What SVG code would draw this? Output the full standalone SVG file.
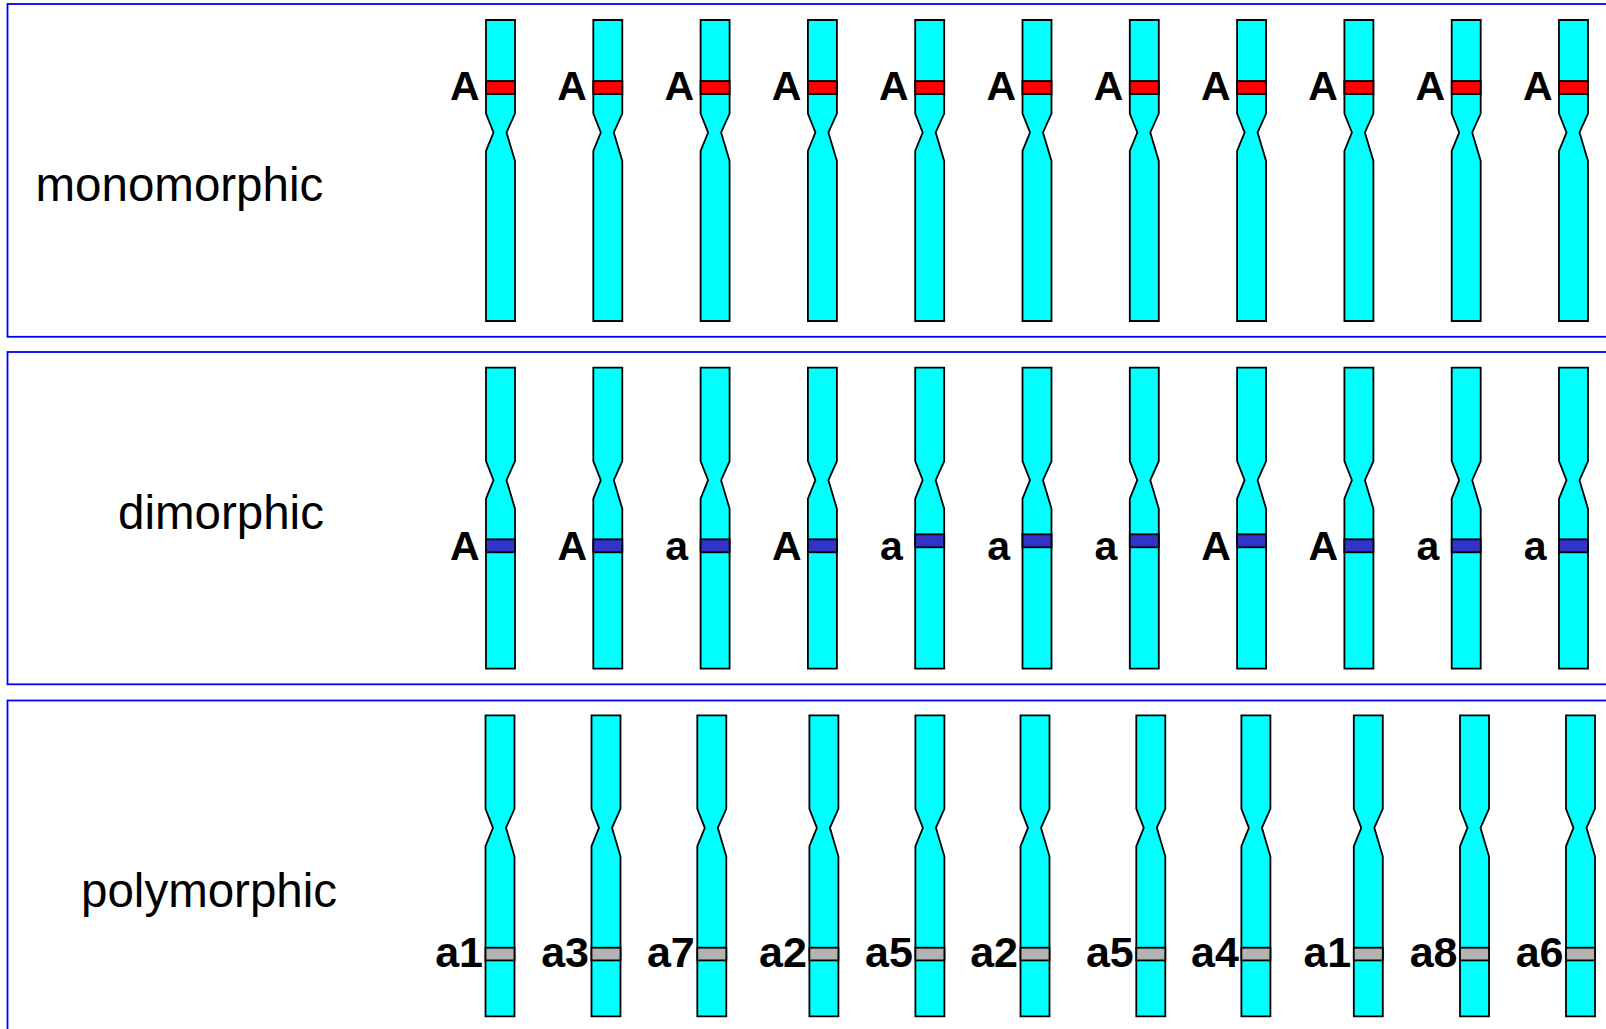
<svg xmlns="http://www.w3.org/2000/svg" xmlns:xlink="http://www.w3.org/1999/xlink" width="1606" height="1029" viewBox="0 0 1606 1029">
  <style>
    .panel { fill: #ffffff; stroke: #0000ff; stroke-width: 1.8; }
    .chr { fill: #00ffff; stroke: #000000; stroke-width: 1.8; stroke-linejoin: miter; }
    .band { stroke: #000000; stroke-width: 1.8; }
    .red { fill: #ff0000; }
    .blue { fill: #3333cc; }
    .grey { fill: #b3b3b3; }
    .title { font-family: "Liberation Sans", Arial, sans-serif; font-size: 47.5px; fill: #000000; }
    .allele { font-family: "Liberation Sans", Arial, sans-serif; font-weight: bold; font-size: 41px; fill: #000000; text-anchor: end; }
    .allele.poly { font-size: 43px; }
  </style>
  <defs>
    <!-- chromosome outline with an off-centre constriction (centromere) -->
    <path id="chromosome" d="M0,0 H29 V93.5 L20.5,112.5 L29,141 V301 H0 V131 L7.5,112.5 L0,93.5 Z"/>
  </defs>

  <!-- panel frames -->
  <g id="frames">
    <rect class="panel" x="7.5" y="4" width="1700" height="332.8"/>
    <rect class="panel" x="7.5" y="352" width="1700" height="332.3"/>
    <rect class="panel" x="7.5" y="700.5" width="1700" height="400"/>
  </g>

  <!-- row titles -->
  <g id="titles">
    <text class="title" x="35.5" y="201">monomorphic</text>
    <text class="title" x="118" y="529">dimorphic</text>
    <text class="title" x="81" y="906.5">polymorphic</text>
  </g>

  <!-- monomorphic row: every chromosome carries allele A -->
  <g id="monomorphic">
    <g id="m1"><use xlink:href="#chromosome" class="chr" x="486" y="20"/><rect class="band red" x="486" y="81" width="29" height="13"/><text class="allele" x="479.5" y="100">A</text></g>
    <g id="m2"><use xlink:href="#chromosome" class="chr" x="593.3" y="20"/><rect class="band red" x="593.3" y="81" width="29" height="13"/><text class="allele" x="586.8" y="100">A</text></g>
    <g id="m3"><use xlink:href="#chromosome" class="chr" x="700.6" y="20"/><rect class="band red" x="700.6" y="81" width="29" height="13"/><text class="allele" x="694.1" y="100">A</text></g>
    <g id="m4"><use xlink:href="#chromosome" class="chr" x="807.9" y="20"/><rect class="band red" x="807.9" y="81" width="29" height="13"/><text class="allele" x="801.4" y="100">A</text></g>
    <g id="m5"><use xlink:href="#chromosome" class="chr" x="915.2" y="20"/><rect class="band red" x="915.2" y="81" width="29" height="13"/><text class="allele" x="908.7" y="100">A</text></g>
    <g id="m6"><use xlink:href="#chromosome" class="chr" x="1022.5" y="20"/><rect class="band red" x="1022.5" y="81" width="29" height="13"/><text class="allele" x="1016" y="100">A</text></g>
    <g id="m7"><use xlink:href="#chromosome" class="chr" x="1129.8" y="20"/><rect class="band red" x="1129.8" y="81" width="29" height="13"/><text class="allele" x="1123.3" y="100">A</text></g>
    <g id="m8"><use xlink:href="#chromosome" class="chr" x="1237.1" y="20"/><rect class="band red" x="1237.1" y="81" width="29" height="13"/><text class="allele" x="1230.6" y="100">A</text></g>
    <g id="m9"><use xlink:href="#chromosome" class="chr" x="1344.4" y="20"/><rect class="band red" x="1344.4" y="81" width="29" height="13"/><text class="allele" x="1337.9" y="100">A</text></g>
    <g id="m10"><use xlink:href="#chromosome" class="chr" x="1451.7" y="20"/><rect class="band red" x="1451.7" y="81" width="29" height="13"/><text class="allele" x="1445.2" y="100">A</text></g>
    <g id="m11"><use xlink:href="#chromosome" class="chr" x="1559" y="20"/><rect class="band red" x="1559" y="81" width="29" height="13"/><text class="allele" x="1552.5" y="100">A</text></g>
  </g>

  <!-- dimorphic row: alleles A and a -->
  <g id="dimorphic">
    <g id="d1"><use xlink:href="#chromosome" class="chr" x="486" y="367.7"/><rect class="band blue" x="486" y="539.3" width="29" height="13"/><text class="allele" x="479.7" y="560">A</text></g>
    <g id="d2"><use xlink:href="#chromosome" class="chr" x="593.3" y="367.7"/><rect class="band blue" x="593.3" y="539.3" width="29" height="13"/><text class="allele" x="587" y="560">A</text></g>
    <g id="d3"><use xlink:href="#chromosome" class="chr" x="700.6" y="367.7"/><rect class="band blue" x="700.6" y="539.3" width="29" height="13"/><text class="allele" x="688.1" y="560">a</text></g>
    <g id="d4"><use xlink:href="#chromosome" class="chr" x="807.9" y="367.7"/><rect class="band blue" x="807.9" y="539.3" width="29" height="13"/><text class="allele" x="801.6" y="560">A</text></g>
    <g id="d5"><use xlink:href="#chromosome" class="chr" x="915.2" y="367.7"/><rect class="band blue" x="915.2" y="534.3" width="29" height="13"/><text class="allele" x="902.7" y="560">a</text></g>
    <g id="d6"><use xlink:href="#chromosome" class="chr" x="1022.5" y="367.7"/><rect class="band blue" x="1022.5" y="534.3" width="29" height="13"/><text class="allele" x="1010" y="560">a</text></g>
    <g id="d7"><use xlink:href="#chromosome" class="chr" x="1129.8" y="367.7"/><rect class="band blue" x="1129.8" y="534.3" width="29" height="13"/><text class="allele" x="1117.3" y="560">a</text></g>
    <g id="d8"><use xlink:href="#chromosome" class="chr" x="1237.1" y="367.7"/><rect class="band blue" x="1237.1" y="534.3" width="29" height="13"/><text class="allele" x="1230.8" y="560">A</text></g>
    <g id="d9"><use xlink:href="#chromosome" class="chr" x="1344.4" y="367.7"/><rect class="band blue" x="1344.4" y="539.3" width="29" height="13"/><text class="allele" x="1338.1" y="560">A</text></g>
    <g id="d10"><use xlink:href="#chromosome" class="chr" x="1451.7" y="367.7"/><rect class="band blue" x="1451.7" y="539.3" width="29" height="13"/><text class="allele" x="1439.2" y="560">a</text></g>
    <g id="d11"><use xlink:href="#chromosome" class="chr" x="1559" y="367.7"/><rect class="band blue" x="1559" y="539.3" width="29" height="13"/><text class="allele" x="1546.5" y="560">a</text></g>
  </g>

  <!-- polymorphic row: many alleles a1..a8 -->
  <g id="polymorphic">
    <g id="p1"><use xlink:href="#chromosome" class="chr" x="485.5" y="715.3"/><rect class="band grey" x="485.5" y="947.7" width="29" height="12.7"/><text class="allele poly" x="483" y="967">a1</text></g>
    <g id="p2"><use xlink:href="#chromosome" class="chr" x="591.5" y="715.3"/><rect class="band grey" x="591.5" y="947.7" width="29" height="12.7"/><text class="allele poly" x="589" y="967">a3</text></g>
    <g id="p3"><use xlink:href="#chromosome" class="chr" x="697.3" y="715.3"/><rect class="band grey" x="697.3" y="947.7" width="29" height="12.7"/><text class="allele poly" x="694.8" y="967">a7</text></g>
    <g id="p4"><use xlink:href="#chromosome" class="chr" x="809.4" y="715.3"/><rect class="band grey" x="809.4" y="947.7" width="29" height="12.7"/><text class="allele poly" x="806.9" y="967">a2</text></g>
    <g id="p5"><use xlink:href="#chromosome" class="chr" x="915.4" y="715.3"/><rect class="band grey" x="915.4" y="947.7" width="29" height="12.7"/><text class="allele poly" x="912.9" y="967">a5</text></g>
    <g id="p6"><use xlink:href="#chromosome" class="chr" x="1020.5" y="715.3"/><rect class="band grey" x="1020.5" y="947.7" width="29" height="12.7"/><text class="allele poly" x="1018" y="967">a2</text></g>
    <g id="p7"><use xlink:href="#chromosome" class="chr" x="1136.3" y="715.3"/><rect class="band grey" x="1136.3" y="947.7" width="29" height="12.7"/><text class="allele poly" x="1133.8" y="967">a5</text></g>
    <g id="p8"><use xlink:href="#chromosome" class="chr" x="1241.4" y="715.3"/><rect class="band grey" x="1241.4" y="947.7" width="29" height="12.7"/><text class="allele poly" x="1238.9" y="967">a4</text></g>
    <g id="p9"><use xlink:href="#chromosome" class="chr" x="1353.8" y="715.3"/><rect class="band grey" x="1353.8" y="947.7" width="29" height="12.7"/><text class="allele poly" x="1351.3" y="967">a1</text></g>
    <g id="p10"><use xlink:href="#chromosome" class="chr" x="1460" y="715.3"/><rect class="band grey" x="1460" y="947.7" width="29" height="12.7"/><text class="allele poly" x="1457.5" y="967">a8</text></g>
    <g id="p11"><use xlink:href="#chromosome" class="chr" x="1566" y="715.3"/><rect class="band grey" x="1566" y="947.7" width="29" height="12.7"/><text class="allele poly" x="1563.5" y="967">a6</text></g>
  </g>
</svg>
